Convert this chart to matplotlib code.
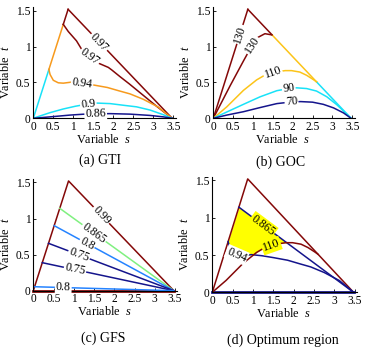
import numpy as np
import matplotlib
matplotlib.use('Agg')
import matplotlib.pyplot as plt

plt.rcParams['font.family'] = ['Liberation Serif', 'DejaVu Serif']
plt.rcParams['mathtext.fontset'] = 'custom'
plt.rcParams['mathtext.it'] = 'Liberation Serif:italic'
plt.rcParams['mathtext.rm'] = 'Liberation Serif'

DARKRED = '#840808'
ORANGE = '#f79a1d'
CYAN = '#18e2f8'
NAVY = '#14148c'
GOLD = '#fcc419'
LGREEN = '#80f080'
BLUE = '#2583ff'

# triangle (feasible region): origin, apex, right vertex
tri_s = [0, 0.87, 3.47]
tri_t = [0, 1.52, 0]

# (a) GTI contours
gti_086_s = [0, 0.42, 0.92, 1.25, 1.6, 1.92, 2.42, 2.92, 3.25, 3.47]
gti_086_t = [0, 0.02, 0.045, 0.057, 0.063, 0.065, 0.058, 0.04, 0.02, 0]
gti_09_s = [0, 0.17, 0.42, 0.75, 1.05, 1.35, 1.6, 1.92, 2.25, 2.58, 2.92, 3.25, 3.47]
gti_09_t = [0, 0.033, 0.079, 0.13, 0.168, 0.198, 0.212, 0.205, 0.182, 0.16, 0.115, 0.05, 0]
gti_094_s = [0.39, 0.42, 0.5, 0.625, 0.75, 0.96, 1.22, 1.5, 1.85, 2.13, 2.42, 2.75, 3.12, 3.47]
gti_094_t = [0.68, 0.61, 0.53, 0.495, 0.49, 0.505, 0.49, 0.465, 0.43, 0.385, 0.34, 0.265, 0.158, 0]
gti_097_s = [0.75, 0.875, 1.08, 1.2, 1.33, 1.625, 1.875, 1.96, 2.17, 2.4, 2.75, 3.1, 3.47]
gti_097_t = [1.31, 1.21, 1.08, 0.97, 0.89, 0.77, 0.71, 0.675, 0.58, 0.48, 0.32, 0.16, 0]
gti_edge_s = [0, 0.39, 0.75, 0.87]   # left edge breaks: cyan, orange, dark red

# (b) GOC contours
goc_130_s = [0, 0.42, 0.76, 0.97, 1.13, 1.3, 1.48]
goc_130_t = [0, 0.45, 0.8, 1.01, 1.13, 1.18, 1.163]
goc_110_s = [0, 0.34, 0.76, 1.09, 1.26, 1.55, 1.81, 1.97, 2.18, 2.35, 2.52, 2.6]
goc_110_t = [0, 0.16, 0.39, 0.535, 0.59, 0.645, 0.665, 0.665, 0.645, 0.6, 0.54, 0.509]
goc_90_s = [0, 0.34, 0.76, 1.18, 1.6, 1.9, 2.1, 2.35, 2.6, 2.86, 3.11, 3.32, 3.47]
goc_90_t = [0, 0.088, 0.195, 0.3, 0.385, 0.415, 0.425, 0.415, 0.38, 0.3, 0.19, 0.08, 0]
goc_70_s = [0, 0.34, 0.76, 1.18, 1.6, 1.97, 2.2, 2.5, 2.77, 3.03, 3.28, 3.47]
goc_70_t = [0, 0.045, 0.092, 0.15, 0.205, 0.228, 0.233, 0.225, 0.195, 0.145, 0.075, 0]
goc_hyp_s = [0.87, 1.48, 2.6, 3.47]  # hypotenuse breaks: dark red, gold, cyan

# (c) GFS: straight contours from a point on the left edge to the right vertex
gfs_levels = ['0.865', '0.8', '0.75', '0.75', '0.8']
gfs_start_s = [0.653, 0.516, 0.376, 0.222, 0.03]
gfs_start_t = [1.141, 0.901, 0.656, 0.388, 0.055]
gfs_colors = [LGREEN, BLUE, NAVY, NAVY, BLUE]
gfs_label_s = [1.5, 1.33, 1.13, 1.03, 0.74]

W, H = 366, 349
fig = plt.figure(figsize=(W / 100, H / 100), dpi=100)

XMAX, YMAX = 3.56, 1.55


def make_axes(left_px, bottom_px, sx, sy):
    w = XMAX * sx
    h = YMAX * sy
    ax = fig.add_axes([left_px / W, (H - bottom_px) / H, w / W, h / H])
    ax.set_xlim(0, XMAX)
    ax.set_ylim(0, YMAX)
    for side in ['top', 'right']:
        ax.spines[side].set_visible(False)
    for side in ['left', 'bottom']:
        ax.spines[side].set_linewidth(0.8)
    ax.set_xticks(np.arange(0, 3.51, 0.5))
    ax.set_xticklabels(['0', '0.5', '1', '1.5', '2', '2.5', '3', '3.5'])
    ax.set_yticks([0, 0.5, 1, 1.5])
    ax.set_yticklabels(['0', '0.5', '1', '1.5'])
    ax.tick_params(direction='in', length=2, width=0.6, labelsize=8.3, pad=2)
    ax.set_xlabel('Variable  $s$', fontsize=8.8)
    ax.set_ylabel('Variable  $t$', fontsize=8.8)
    ax.xaxis.set_label_coords(0.49, -0.13)
    ax.yaxis.set_label_coords(-0.15, 0.42)
    return ax


def label(ax, s_pts, t_pts, s0, txt, bg='white'):
    t0 = np.interp(s0, s_pts, t_pts)
    d = 0.04
    p1 = ax.transData.transform((s0 - d, np.interp(s0 - d, s_pts, t_pts)))
    p2 = ax.transData.transform((s0 + d, np.interp(s0 + d, s_pts, t_pts)))
    ang = np.degrees(np.arctan2(p2[1] - p1[1], p2[0] - p1[0]))
    ax.text(s0, t0, txt, rotation=ang, rotation_mode='anchor', ha='center', va='center',
            fontsize=8.6, zorder=5,
            bbox=dict(boxstyle='square,pad=0.08', facecolor=bg, edgecolor='none'))


def left_t(s):
    return np.interp(s, tri_s[:2], tri_t[:2])


def hyp_t(s):
    return np.interp(s, tri_s[1:], tri_t[1:])


LW = 1.1

# ---------- (a) GTI ----------
ax = make_axes(33.3, 118.3, 40.0, 71.7)
for i, c in enumerate([CYAN, ORANGE, DARKRED]):
    seg = gti_edge_s[i:i + 2]
    ax.plot(seg, left_t(seg), color=c, lw=LW)
ax.plot(tri_s[1:], tri_t[1:], color=DARKRED, lw=LW)
ax.plot(gti_097_s, gti_097_t, color=DARKRED, lw=LW)
ax.plot(gti_094_s, gti_094_t, color=ORANGE, lw=LW)
ax.plot(gti_09_s, gti_09_t, color=CYAN, lw=LW)
ax.plot(gti_086_s, gti_086_t, color=NAVY, lw=LW)
label(ax, tri_s[1:], tri_t[1:], 1.65, '0.97')
label(ax, gti_097_s, gti_097_t, 1.41, '0.97')
label(ax, gti_094_s, gti_094_t, 1.22, '0.94')
label(ax, gti_09_s, gti_09_t, 1.375, '0.9')
label(ax, gti_086_s, gti_086_t, 1.56, '0.86')

# ---------- (b) GOC ----------
ax = make_axes(213.3, 118.3, 39.7, 71.7)
ax.plot(tri_s[:2], tri_t[:2], color=DARKRED, lw=LW)
for i, c in enumerate([DARKRED, GOLD, CYAN]):
    seg = goc_hyp_s[i:i + 2]
    ax.plot(seg, hyp_t(seg), color=c, lw=LW)
ax.plot(goc_130_s, goc_130_t, color=DARKRED, lw=LW)
ax.plot(goc_110_s, goc_110_t, color=GOLD, lw=LW)
ax.plot(goc_90_s, goc_90_t, color=CYAN, lw=LW)
ax.plot(goc_70_s, goc_70_t, color=NAVY, lw=LW)
label(ax, tri_s[:2], tri_t[:2], 0.67, '130')
label(ax, goc_130_s, goc_130_t, 0.98, '130')
label(ax, goc_110_s, goc_110_t, 1.5, '110')
label(ax, goc_90_s, goc_90_t, 1.9, '90')
label(ax, goc_70_s, goc_70_t, 1.97, '70')

# ---------- (c) GFS ----------
ax = make_axes(33.3, 290.7, 40.5, 72.2)
ax.plot(tri_s, tri_t, color=DARKRED, lw=LW)
ax.plot([0, tri_s[2]], [0, 0], color=DARKRED, lw=LW * 1.8, clip_on=False)
for lev, s0, t0, c, ls in zip(gfs_levels, gfs_start_s, gfs_start_t, gfs_colors, gfs_label_s):
    ax.plot([s0, tri_s[2]], [t0, tri_t[2]], color=c, lw=LW)
    label(ax, [s0, tri_s[2]], [t0, tri_t[2]], ls, lev)
label(ax, tri_s[1:], tri_t[1:], 1.68, '0.99')

# ---------- (d) Optimum region ----------
ax = make_axes(212.3, 292.3, 40.7, 74.6)
l865_s = [gfs_start_s[0], tri_s[2]]
l865_t = [gfs_start_t[0], tri_t[2]]
sg = np.linspace(gti_094_s[0], 1.9, 400)
lower = np.maximum(np.interp(sg, gti_094_s, gti_094_t), np.interp(sg, goc_110_s, goc_110_t))
upper = np.minimum(left_t(sg), np.interp(sg, l865_s, l865_t))
ax.fill_between(sg, lower, upper, where=upper > lower, color='#ffff00', lw=0, zorder=1)
ax.plot(tri_s, tri_t, color=DARKRED, lw=LW)
ax.plot([0, tri_s[2]], [0, 0], color=NAVY, lw=LW * 1.8, clip_on=False)
ax.plot(l865_s, l865_t, color=NAVY, lw=LW)
ax.plot(gti_094_s, gti_094_t, color=NAVY, lw=LW)
ax.plot(goc_110_s, goc_110_t, color=DARKRED, lw=LW)
label(ax, l865_s, l865_t, 1.245, '0.865', bg='#ffff00')
label(ax, goc_110_s, goc_110_t, 1.45, '110', bg='#ffff00')
label(ax, gti_094_s, gti_094_t, 0.6, '0.94')

# captions
for x, y, txt in [(100, 160, '(a) GTI'), (281, 162, '(b) GOC'),
                  (103, 338, '(c) GFS'), (283, 340, '(d) Optimum region')]:
    fig.text(x / W, 1 - y / H, txt, ha='center', va='center', fontsize=10)

fig.savefig('out.png', dpi=100)
